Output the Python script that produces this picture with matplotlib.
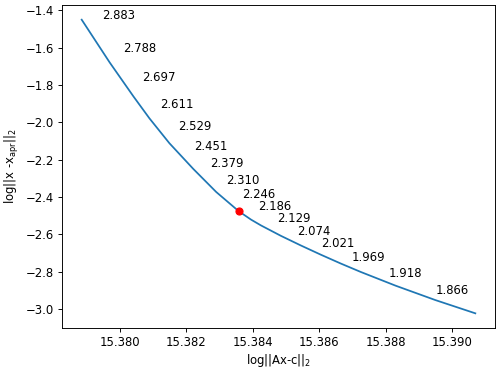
import numpy as np
import matplotlib
matplotlib.use('Agg')
import matplotlib.pyplot as plt

# L-curve: log||Ax-c||_2 (x) vs log||x - x_apr||_2 (y)
residual_log = [15.378862, 15.379701, 15.380419, 15.380898, 15.381497, 15.382216,
                15.382904, 15.383578, 15.383952, 15.384251, 15.384850, 15.385449,
                15.386048, 15.386647, 15.387246, 15.388293, 15.389491, 15.390689]
solution_log = [-1.4510, -1.6795, -1.8624, -1.9794, -2.1124, -2.2503,
                -2.3737, -2.4762, -2.5218, -2.5529, -2.6087, -2.6602,
                -2.7095, -2.7568, -2.8018, -2.8753, -2.9526, -3.0234]
corner_idx = 7  # red point

# regularisation parameter labels and where they sit
lambda_labels = ['2.883', '2.788', '2.697', '2.611', '2.529', '2.451', '2.379',
                 '2.310', '2.246', '2.186', '2.129', '2.074', '2.021', '1.969',
                 '1.918', '1.866']
label_x = [15.379491, 15.380105, 15.380689, 15.381228, 15.381751, 15.382254,
           15.382710, 15.383204, 15.383683, 15.384171, 15.384731, 15.385344,
           15.386063, 15.386976, 15.388093, 15.389491]
label_y = [-1.4268, -1.6055, -1.7594, -1.9070, -2.0212, -2.1296,
           -2.2235, -2.3120, -2.3871, -2.4531, -2.5175, -2.5856,
           -2.6516, -2.7251, -2.8109, -2.8995]

xticks = [15.380, 15.382, 15.384, 15.386, 15.388, 15.390]

dpi = 84
fig = plt.figure(figsize=(500 / dpi, 370 / dpi), dpi=dpi)
ax = fig.add_axes([0.124, 0.1135, 0.866, 0.873])

ax.plot(residual_log, solution_log, color='C0', linewidth=1.5)
for lab, tx, ty in zip(lambda_labels, label_x, label_y):
    ax.text(tx, ty, lab, ha='left', va='center', fontsize=10)
ax.plot(residual_log[corner_idx], solution_log[corner_idx], 'ro', markersize=6, zorder=3)

ax.set_xticks(xticks)
ax.set_xticklabels(['%.3f' % v for v in xticks])
ax.set_xlabel(r'log||Ax-c||$_2$', labelpad=2)
ax.set_ylabel(r'log||x -x$_{\rm apr}$||$_2$')

fig.savefig('out.png', dpi=dpi)
